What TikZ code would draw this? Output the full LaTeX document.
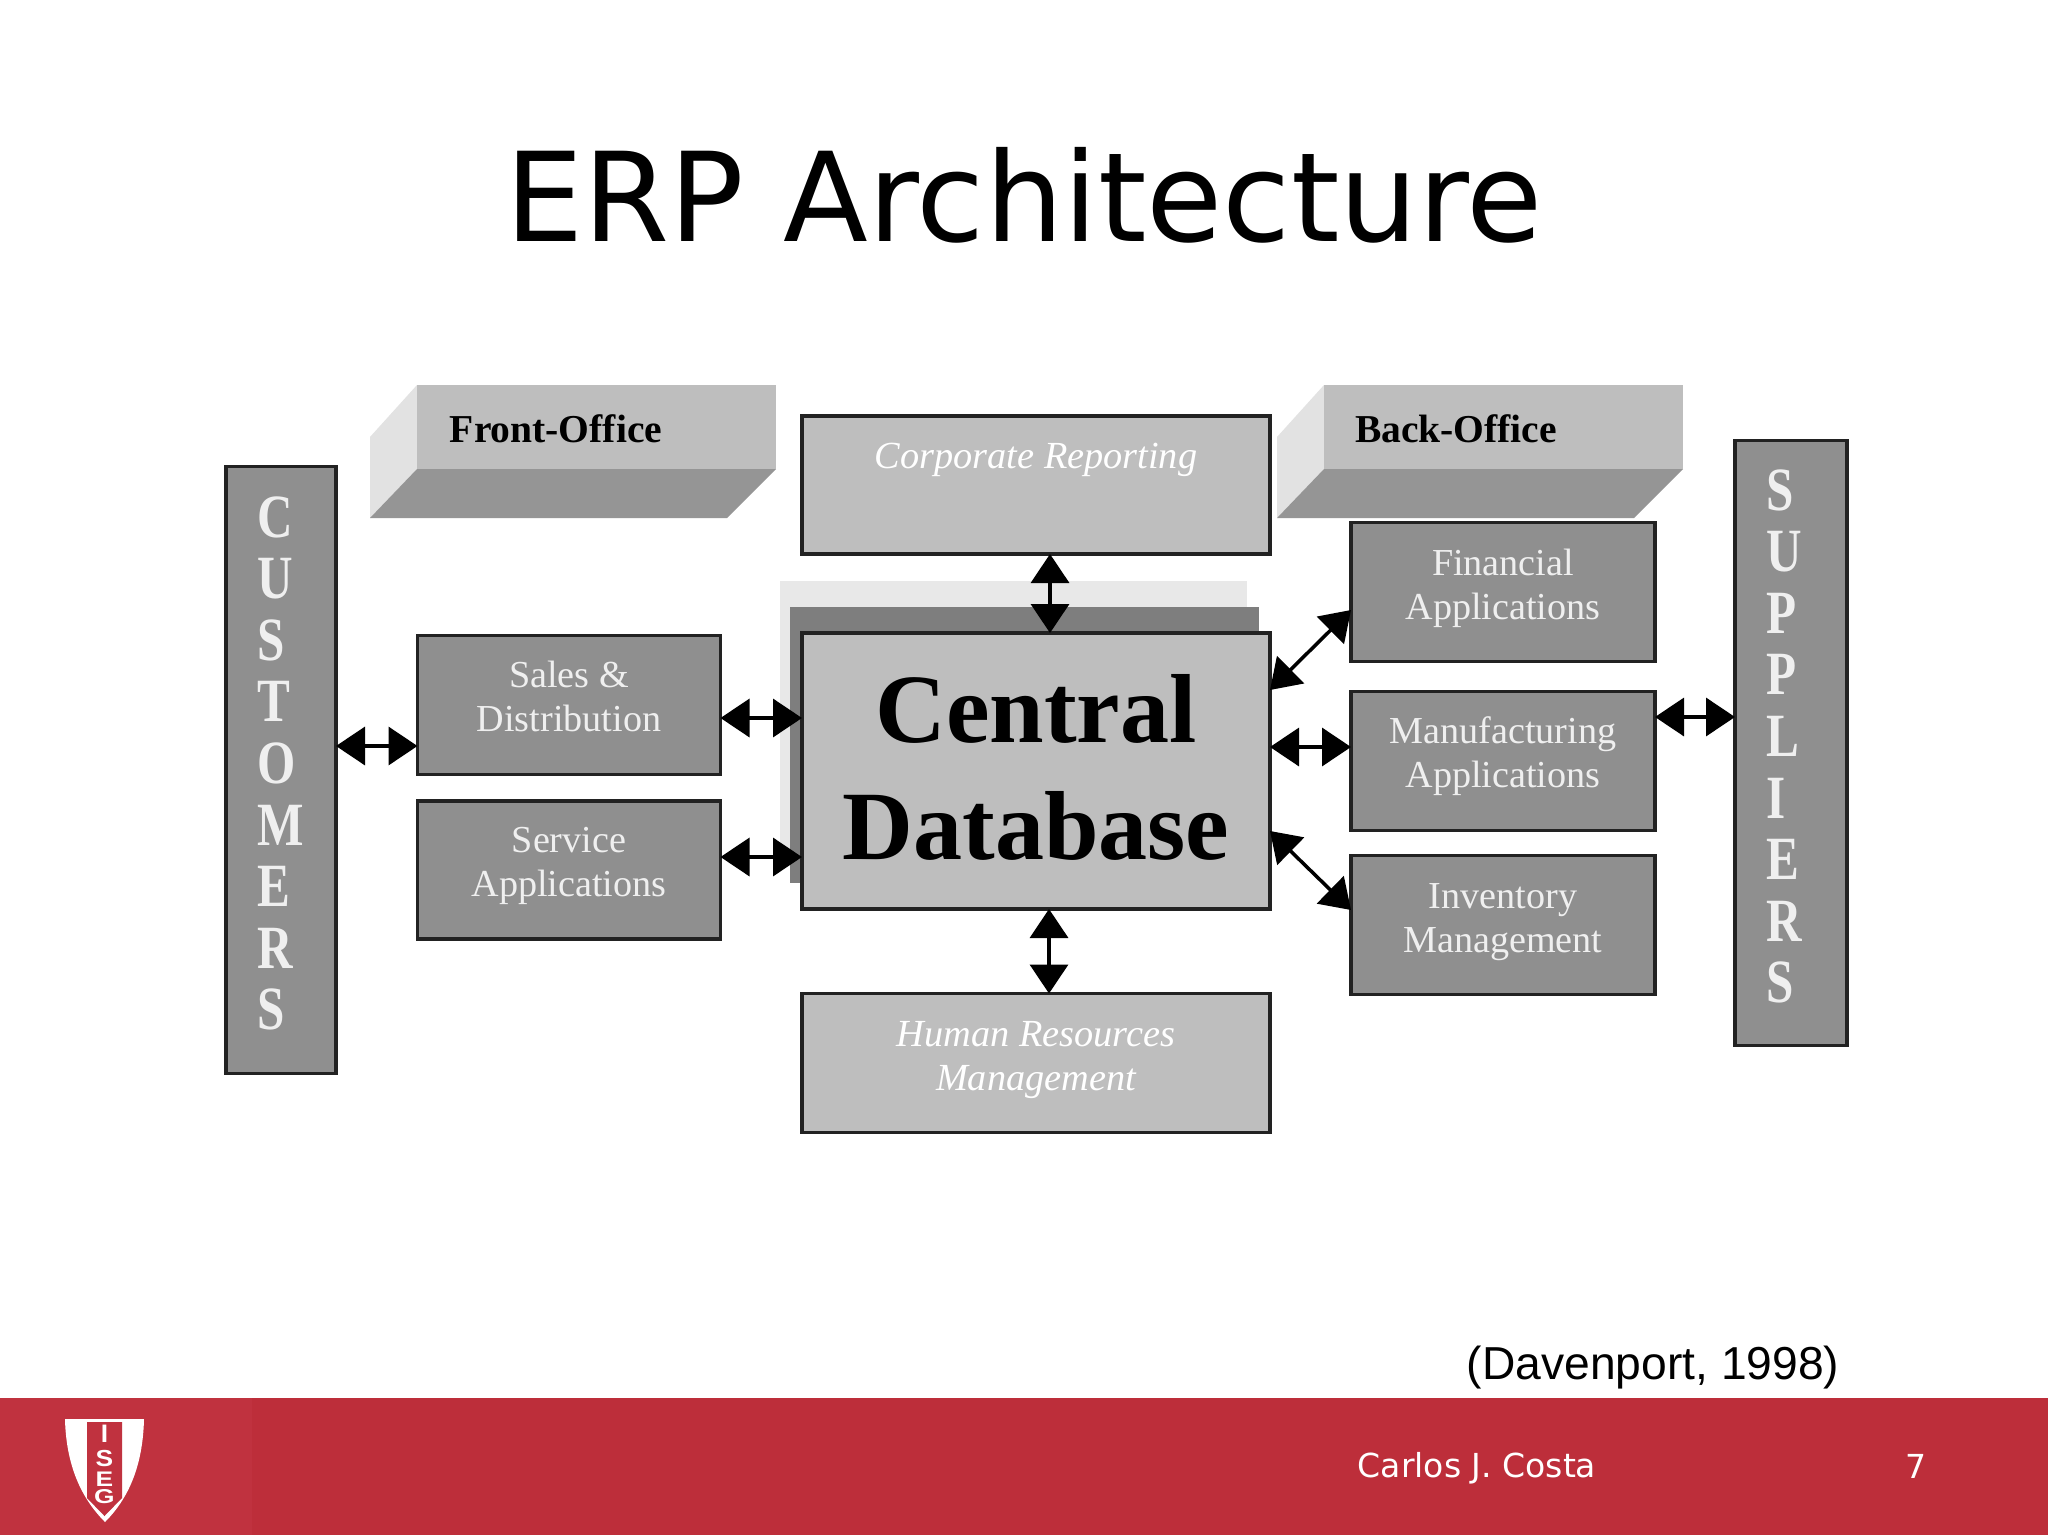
\documentclass[tikz,border=0pt]{standalone}
\usepackage{graphicx}
\usepackage{fontspec}
\setmainfont{Liberation Serif}
\newfontfamily\titlefont{DejaVu Sans}
\newfontfamily\citefont{Liberation Sans}
\usetikzlibrary{arrows.meta, positioning, calc}
\definecolor{darkfill}{HTML}{8F8F8F}
\definecolor{lightfill}{HTML}{BEBEBE}
\definecolor{edgegray}{HTML}{222222}
\definecolor{footred}{HTML}{BD2E3A}
\definecolor{logored}{HTML}{C0323F}
\definecolor{softwhite}{HTML}{EFEFEF}
\tikzset{
  size/.style 2 args={minimum width=#1*0.2mm, minimum height=#2*0.2mm, inner sep=0pt, outer sep=0pt},
  darkbox/.style={draw=edgegray, line width=2pt, fill=darkfill, text=softwhite, align=center,
    font=\fontsize{21.7}{25}\selectfont},
  lightbox/.style={draw=edgegray, line width=2pt, fill=lightfill, text=white, align=center,
    font=\fontsize{21.8}{25}\selectfont\itshape},
  letter/.style={anchor=west, text=softwhite, inner sep=0pt, font=\fontsize{35}{35}\selectfont\bfseries},
  officetext/.style={text=black, inner sep=0pt, font=\fontsize{22.5}{25}\selectfont\bfseries},
  dbl/.style={{Triangle[length=0.58cm,width=0.76cm]}-{Triangle[length=0.58cm,width=0.76cm]}, line width=2pt, black},
}
\begin{document}
\begin{tikzpicture}[x=0.2mm, y=-0.2mm]
\useasboundingbox (0,0) rectangle (2048,1535);
\fill[white] (0,0) rectangle (2048,1535);

% Title
\node[inner sep=0pt, font=\fontsize{70.5}{72}\selectfont\titlefont] (title) at (1024,195) {ERP Architecture};

% Front-office and back-office slabs
\foreach \ox/\nm in {0/front, 907/back} {
  \fill[lightfill!45!white] (370+\ox,437) -- (417+\ox,385) -- (417+\ox,469) -- (370+\ox,518) -- cycle;
  \fill[lightfill] (417+\ox,385) rectangle (776+\ox,469);
  \fill[darkfill!95!white] (417+\ox,469) -- (776+\ox,469) -- (727+\ox,518) -- (370+\ox,518) -- cycle;
}
\node[officetext] (front) at (556,429) {Front-Office};
\node[officetext] (back) at (1456,429) {Back-Office};

% Customers and suppliers columns
\node[darkbox, size={110}{607}] (cust) at (281,770) {};
\node[darkbox, size={112}{605}] (supp) at (1791,743) {};
\foreach \l [count=\i] in {C,U,S,T,O,M,E,R,S} {
  \node[letter, name=cust\i] at (257,{517+61.6*(\i-1)}) {\scalebox{0.8}[1]{\l}};
}
\foreach \l [count=\i] in {S,U,P,P,L,I,E,R,S} {
  \node[letter, name=supp\i] at (1766,{490+61.6*(\i-1)}) {\scalebox{0.8}[1]{\l}};
}

% Central database with its two shadow sheets
\fill[lightfill!35!white] (780,581) rectangle (1247,855);
\fill[darkfill!88!black] (790,607) rectangle (1259,883);
\node[draw=edgegray, line width=2pt, fill=lightfill, size={468}{276}, align=center, text depth=5pt,
  font=\fontsize{55.8}{66.5}\selectfont\bfseries] (db) at (1036,771) {Central\\Database};

% Top and bottom modules
\node[lightbox, size={468}{138}, text depth=33pt] (corp) at (1036,485) {Corporate Reporting};
\node[lightbox, size={468}{139}, text depth=8pt] (hr) at (1036,1063) {Human Resources\\Management};

% Left modules
\node[darkbox, size={303}{139}, text depth=10pt] (sales) at (569,705) {Sales \&\\Distribution};
\node[darkbox, size={303}{138}, text depth=9pt] (service) at (569,870) {Service\\Applications};

% Right modules
\node[darkbox, size={304}{139}, text depth=9pt] (fin) at (1503,592) {Financial\\Applications};
\node[darkbox, size={304}{139}, text depth=10pt] (manu) at (1503,761) {Manufacturing\\Applications};
\node[darkbox, size={304}{139}, text depth=8pt] (inv) at (1503,925) {Inventory\\Management};

% Arrows
\draw[dbl] ($(cust.east)+(0,-24)$) -- ($(sales.west)+(0,41)$);
\draw[dbl] ($(sales.east)+(0,13)$) -- ($(db.west)+(0,-53)$);
\draw[dbl] ($(service.east)+(0,-13)$) -- ($(db.west)+(0,86)$);
\draw[dbl] ($(corp.south)+(14,0)$) -- ($(db.north)+(14,0)$);
\draw[dbl] ($(db.south)+(13,0)$) -- ($(hr.north)+(13,0)$);
\draw[dbl] ($(db.east)+(0,-81)$) -- ($(fin.west)+(0,18)$);
\draw[dbl] ($(db.east)+(0,-24)$) -- ($(manu.west)+(0,-14)$);
\draw[dbl] ($(db.east)+(0,60)$) -- ($(inv.west)+(0,-15)$);
\draw[dbl] ($(manu.east)+(0,-44)$) -- ($(supp.west)+(0,-26)$);

% Citation
\node[inner sep=0pt, font=\fontsize{26.3}{30}\selectfont\citefont] (cite) at (1653,1368) {(Davenport, 1998)};

% Footer band
\fill[footred] (0,1398) rectangle (2048,1535);
\fill[logored] (0,1398) rectangle (252,1535);
\node[text=white, inner sep=0pt, font=\fontsize{18.8}{22}\selectfont\titlefont] (author) at (1477,1468) {Carlos J. Costa};
\node[text=white, inner sep=0pt, font=\fontsize{18.8}{22}\selectfont\titlefont] (page) at (1916,1466) {7};

% Shield logo
\fill[white] (65,1419) -- (144,1419) .. controls (143,1460) and (132,1495) .. (105,1522) .. controls (78,1495) and (66,1460) .. (65,1419) -- cycle;
\fill[logored] (87,1422) -- (122,1422) -- (122,1498) -- (104.5,1516) -- (87,1498) -- cycle;
\foreach \l/\yy/\sy in {I/1434/1.2, S/1458/1.1, E/1479/1, G/1497/0.95} {
  \node[text=white, inner sep=0pt, font=\fontsize{12}{12}\selectfont\citefont\bfseries, name=iseg\l] at (104.5,\yy) {\scalebox{1.25}[\sy]{\l}};
}
\end{tikzpicture}
\end{document}
